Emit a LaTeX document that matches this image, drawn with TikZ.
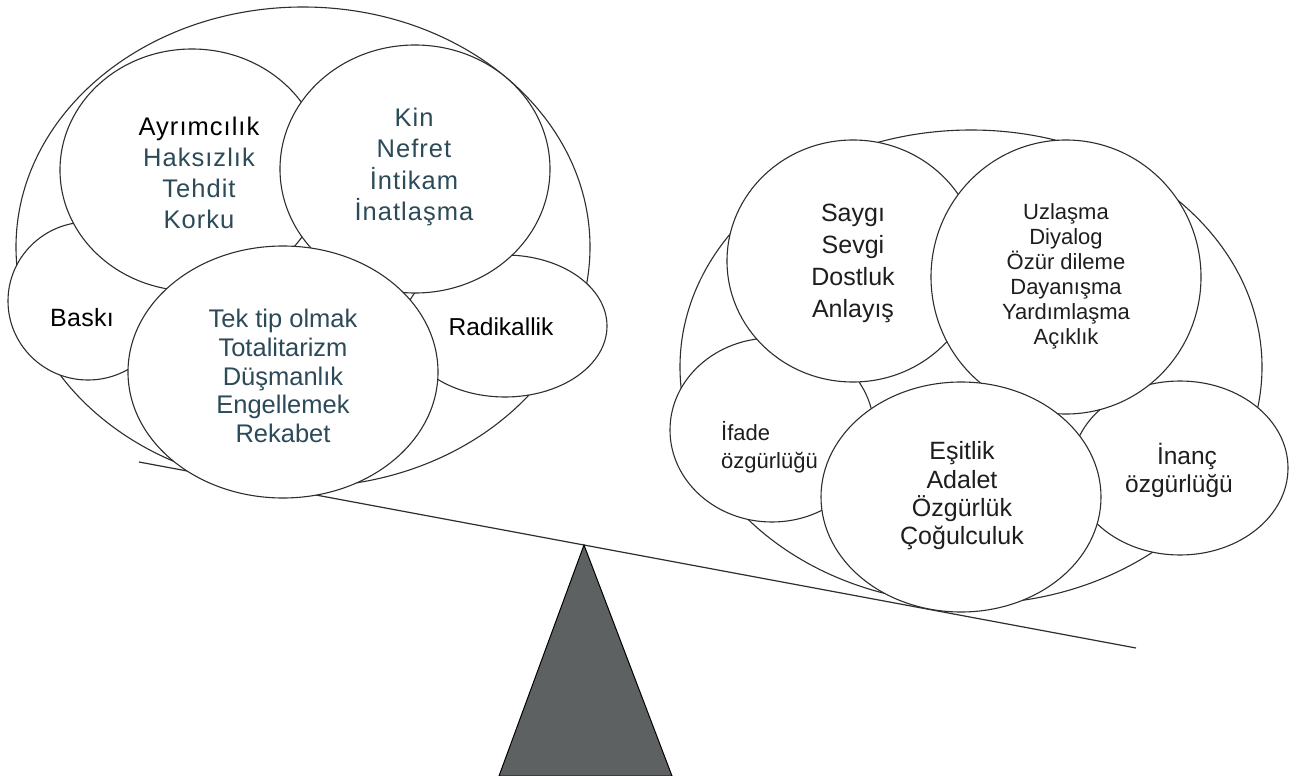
\documentclass[tikz,border=0pt]{standalone}
\usepackage{fontspec}
\setmainfont{Liberation Sans}
\usetikzlibrary{shapes.geometric}
\definecolor{tealtxt}{HTML}{2C4A58}
\definecolor{inktxt}{HTML}{1E1E1E}
\definecolor{edgecol}{HTML}{2E2E2E}
\definecolor{fulcol}{HTML}{5D6162}
\newcommand{\fsz}[3]{\fontsize{#1}{#2}\selectfont\addfontfeature{LetterSpace=#3}}
\begin{document}
\begin{tikzpicture}[x=1pt,y=-1pt,
  bub/.style={ellipse, draw=edgecol, fill=white, line width=1.1pt, inner sep=0pt},
  txt/.style={align=center, inner sep=0pt},
  beamline/.style={draw=edgecol, line width=1.2pt},
]
\useasboundingbox (0,0) rectangle (1299,776);
\fill[white] (0,0) rectangle (1299,776);

% beam
\coordinate (beamL) at (139,462);
\coordinate (beamR) at (1136,648);
\draw[beamline] (beamL) -- (beamR);

% left group
\node[bub, minimum width=574pt, minimum height=480pt] (outL) at (303,247) {};
\node[bub, minimum width=160pt, minimum height=158pt] (bBaski) at (88,301) {};
\node[bub, minimum width=204pt, minimum height=142pt] (bRad) at (505,326) {};
\node[bub, minimum width=264pt, minimum height=242pt] (bAyr) at (192,170) {};
\node[bub, minimum width=270pt, minimum height=248pt] (bKin) at (415,169) {};
\node[bub, minimum width=310pt, minimum height=252pt] (bTek) at (283,372) {};

% right group
\node[bub, minimum width=582pt, minimum height=474pt] (outR) at (971,367) {};
\node[bub, minimum width=204pt, minimum height=184pt] (bIfade) at (772,430) {};
\node[bub, minimum width=216pt, minimum height=174pt] (bInanc) at (1180,468) {};
\node[bub, minimum width=252pt, minimum height=242pt] (bSaygi) at (853,261) {};
\node[bub, minimum width=270pt, minimum height=274pt] (bUzl) at (1066,277) {};
\node[bub, minimum width=280pt, minimum height=230pt] (bEsit) at (961,497) {};

% left texts
\node[txt, text=tealtxt, font=\fsz{25.5}{31}{4}] (tAyr) at (199,173)
  {\textcolor{black}{Ayrımcılık}\\Haksızlık\\Tehdit\\Korku};
\node[txt, text=tealtxt, font=\fsz{25.5}{31.5}{4}] (tKin) at (414,167)
  {Kin\\Nefret\\İntikam\\İnatlaşma};
\node[txt, text=black, font=\fsz{25}{30}{1}] (tBaski) at (82,318) {Baskı};
\node[txt, text=black, font=\fsz{24.5}{30}{0}] (tRad) at (501,327) {Radikallik};
\node[txt, text=tealtxt, font=\fsz{25.5}{28.7}{0}] (tTek) at (283,376)
  {Tek tip olmak\\Totalitarizm\\Düşmanlık\\Engellemek\\Rekabet};

% right texts
\node[txt, text=inktxt, font=\fsz{25}{32}{0}] (tSaygi) at (853,263)
  {Saygı\\Sevgi\\Dostluk\\Anlayış};
\node[txt, text=inktxt, font=\fsz{22}{25}{0}] (tUzl) at (1066,276)
  {Uzlaşma\\Diyalog\\Özür dileme\\Dayanışma\\Yardımlaşma\\Açıklık};
\node[txt, align=left, anchor=west, text=inktxt, font=\fsz{22}{28}{0}] (tIfade) at (721,447)
  {İfade\\özgürlüğü};
\node[txt, text=inktxt, font=\fsz{25}{28.3}{0}] (tEsit) at (962,496)
  {Eşitlik\\Adalet\\Özgürlük\\Çoğulculuk};
\node[txt, text=inktxt, font=\fsz{24.5}{28}{0}] (tInanc) at (1179,470)
  {\hspace*{16pt}İnanç\\özgürlüğü};

% fulcrum
\coordinate (apex) at (584,545);
\coordinate (baseR) at (672,776);
\coordinate (baseL) at (499,776);
\draw[fill=fulcol, draw=black, line width=1pt] (apex) -- (baseR) -- (baseL) -- cycle;
\end{tikzpicture}
\end{document}
